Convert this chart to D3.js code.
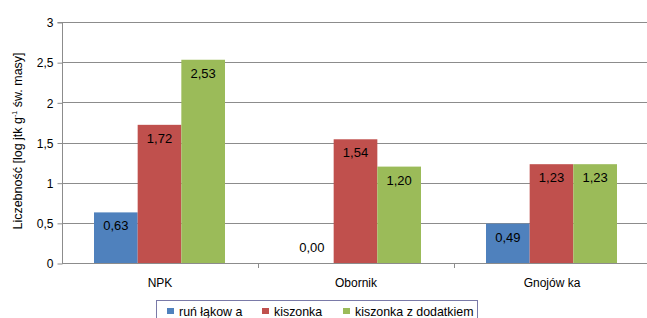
<!DOCTYPE html>
<html><head><meta charset="utf-8">
<script src="https://cdn.jsdelivr.net/npm/d3@7"></script>
<style>body{margin:0;background:#fff}svg{display:block;font-family:"Liberation Sans",Arial,sans-serif}</style>
</head><body><svg id="c" width="647" height="318"></svg>
<script>
const categories = ["NPK", "Obornik", "Gnojów ka"];
const seriesNames = ["ruń łąkow a", "kiszonka", "kiszonka z dodatkiem"];
const runLakowa = [0.63, 0.00, 0.49];
const kiszonka = [1.72, 1.54, 1.23];
const kiszonkaDod = [2.53, 1.20, 1.23];
const yTicks = [0, 0.5, 1, 1.5, 2, 2.5, 3];
const colors = ["#4F81BD", "#C0504D", "#9BBB59"];
const series = [runLakowa, kiszonka, kiszonkaDod];

const svg = d3.select("#c");
const fmt = v => v.toFixed(2).replace(".", ",");
const y = d3.scaleLinear().domain([0, 3]).range([263, 22]);
const x0 = d3.scaleBand().domain(categories).range([62, 650]).padding(0);
const x1 = d3.scaleBand().domain(d3.range(3)).range([32, x0.bandwidth() - 33]).padding(0);

// gridlines
svg.append("g").selectAll("line").data(yTicks.slice(1)).join("line")
  .attr("x1", 62).attr("x2", 647).attr("y1", d => Math.round(y(d)) + 0.5).attr("y2", d => Math.round(y(d)) + 0.5)
  .attr("stroke", "#8c8c8c").attr("stroke-width", 1);

// y axis
const yAxis = d3.axisLeft(y).tickValues(yTicks).tickSize(5).tickFormat(d => String(d).replace(".", ","));
const ga = svg.append("g").attr("transform", "translate(62.5,0.5)").call(yAxis);
ga.select(".domain").attr("stroke", "#8c8c8c").attr("d", `M-5,${y(3)}H0V${y(0)}`);
ga.selectAll(".tick line").attr("stroke", "#8c8c8c");
ga.selectAll(".tick text").attr("font-size", 12).attr("fill", "#000").attr("x", -9).attr("dy", "0.35em").attr("font-family", "Liberation Sans, Arial, sans-serif");

// bars
const groups = svg.append("g").selectAll("g").data(categories).join("g")
  .attr("transform", d => `translate(${x0(d)},0)`);
groups.each(function(cat, ci) {
  const g = d3.select(this);
  series.forEach((s, si) => {
    const v = s[ci];
    g.append("rect").attr("x", x1(si)).attr("width", x1.bandwidth())
      .attr("y", y(v)).attr("height", y(0) - y(v)).attr("fill", colors[si]);
    g.append("text").attr("x", x1(si) + x1.bandwidth() / 2)
      .attr("y", Math.min(y(v) + 18, y(0) - 11))
      .attr("text-anchor", "middle").attr("font-size", 13).attr("fill", "#000").text(fmt(v));
  });
});

// x axis
const xa = svg.append("g");
xa.append("line").attr("x1", 62).attr("x2", 647).attr("y1", 263.5).attr("y2", 263.5).attr("stroke", "#8c8c8c");
xa.selectAll("line.t").data(categories.slice(1)).join("line").attr("class", "t")
  .attr("x1", d => Math.round(x0(d)) + 0.5).attr("x2", d => Math.round(x0(d)) + 0.5)
  .attr("y1", 263).attr("y2", 268).attr("stroke", "#8c8c8c");
xa.selectAll("text").data(categories).join("text")
  .attr("x", d => x0(d) + x0.bandwidth() / 2).attr("y", 287)
  .attr("text-anchor", "middle").attr("font-size", 12).text(d => d);

// y title
const t = svg.append("text").attr("transform", "translate(22,141) rotate(-90)")
  .attr("text-anchor", "middle").attr("font-size", 12.5);
t.append("tspan").text("Liczebność [log jtk g");
t.append("tspan").attr("font-size", 7).attr("dy", -5).text("-1");
t.append("tspan").attr("dy", 5).text(" św. masy]");

// legend
const lg = svg.append("g");
lg.append("rect").attr("x", 156.5).attr("y", 300.5).attr("width", 321).attr("height", 30)
  .attr("fill", "#fff").attr("stroke", "#7a7aa8");
const lx = [167, 262, 343];
seriesNames.forEach((n, i) => {
  lg.append("rect").attr("x", lx[i]).attr("y", 308).attr("width", 7).attr("height", 6).attr("fill", colors[i]);
  lg.append("text").attr("x", lx[i] + 12).attr("y", 316).attr("font-size", 12.4).text(n);
});
</script></body></html>
